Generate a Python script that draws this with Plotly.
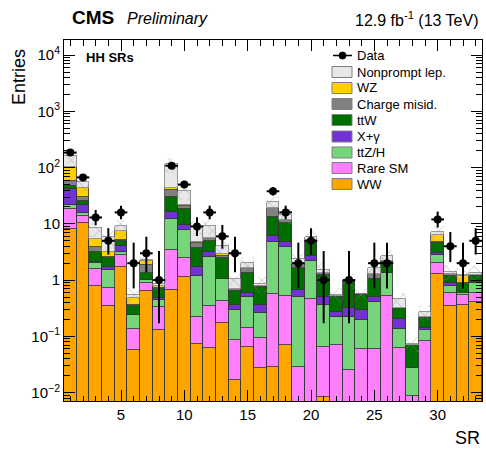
import math
import plotly.graph_objects as go

# ---------------- data ----------------
sr = list(range(1, 34))

ww = [8.0, 10.5, 0.79, 0.35, 1.69, 0.056, 0.65, 0.13, 0.66, 1.12, 0.074, 0.062, 0.176, 0.0166, 0.065, 0.027, 0.028,
      0.07, 0, 0, 0.0085, 0, 0, 0, 0, 0, 0, 0, 0, 1.29, 0.34, 0.36, 0.40]
rare = [10.4, 3.3, 0.77, 0.37, 1.11, 0.078, 0.25, 0.20, 2.84, 1.33, 0.151, 0.278, 0.254, 0.068, 0.075, 0.066, 0.532,
        0.45, 0.028, 0.46, 0.0555, 0.07, 0.025, 0.059, 0.059, 0.52, 0.062, 0.0088, 0.081, 0.75, 0.24, 0.19, 0.20]
ttzh = [3.6, 2.1, 0.44, 0.80, 0.40, 0.101, 0.10, 0.12, 8.5, 5.35, 0.935, 2.21, 0.60, 0.215, 0.36, 0.167, 4.24,
        3.32, 0.482, 1.74, 0.296, 0.155, 0.195, 0.137, 0.351, 0.84, 0.072, 0.0182, 0.049, 0.76, 0.22, 0.05, 0.28]
xgamma = [19.0, 5.8, 0.13, 0.17, 0.85, 0.0, 0.0, 0.03, 4.0, 1.8, 0.58, 0.55, 0.0, 0.06, 0.10, 0.10, 1.4,
          0.96, 0.16, 0.49, 0.15, 0.05, 0.096, 0.099, 0.10, 0.0, 0.066, 0.0, 0.01, 0.2, 0.08, 0.0, 0.0]
ttw = [6.0, 4.2, 0.97, 0.76, 0.95, 0.115, 0.36, 0.21, 13.6, 8.8, 2.06, 1.9, 1.42, 0.29, 0.76, 0.38, 7.2,
       5.4, 1.0, 2.11, 0.73, 0.235, 0.624, 0.255, 0.52, 0.78, 0.116, 0.043, 0.07, 1.6, 0.28, 0.28, 0.28]
chargemisid = [10.0, 4.6, 0.8, 0.10, 0.1, 0.01, 0.50, 0.03, 10.4, 2.6, 0.8, 0.5, 0.28, 0.04, 0.26, 0.05, 5.5,
               1.5, 0.27, 0.4, 0.08, 0.01, 0.03, 0.01, 0.26, 0.06, 0.004, 0.001, 0.01, 0.1, 0.13, 0.0, 0.08]
wz = [45.0, 12.5, 1.5, 0.55, 2.5, 0.12, 0.34, 0.05, 2.8, 1.0, 0.1, 0.1, 0.17, 0.01, 0.03, 0.01, 0.1,
      0.1, 0.01, 0.0, 0.0, 0.0, 0.0, 0.0, 0.01, 0.0, 0.0, 0.0, 0.0, 1.65, 0.01, 0.28, 0.01]
nonprompt = [62.0, 13.0, 2.9, 2.7, 1.6, 0.07, 0.10, 0.09, 71.0, 16.0, 4.0, 3.4, 1.1, 0.33, 0.35, 0.06, 5.2,
             2.6, 0.43, 0.7, 0.2, 0.03, 0.03, 0.01, 0.32, 0.49, 0.14, 0.003, 0.055, 0.75, 0.12, 0.08, 0.11]
data = [185, 67, 13, 5, 16, 2, 3, 1, 108, 50, 9, 16, 6, 3, 0, 0, 38, 16, 2, 5, 1, 0, 1, 0, 2, 2, 0, 0, 0, 12, 4, 2, 5]

syst_rel = 0.3  # relative size of the hatched uncertainty band

ytick_vals = [1e-2, 1e-1, 1, 10, 1e2, 1e3, 1e4]
ytick_text = ["10<sup>\u22122</sup>", "10<sup>\u22121</sup>", "1", "10", "10<sup>2</sup>", "10<sup>3</sup>",
              "10<sup>4</sup>"]

# ---------------- layout geometry ----------------
W, H = 486, 452
L, R, T, B = 64, 4, 40, 51
PW, PH = W - L - R, H - T - B
FONT = "Liberation Sans, Arial, Helvetica, sans-serif"


def px(x):
    return (x - L) / PW


def py(y):
    return (H - B - y) / PH


components = [
    ("WW", ww, "#ffa500", "#333333"),
    ("Rare SM", rare, "#ff80ff", "#333333"),
    ("ttZ/H", ttzh, "#76d47a", "#333333"),
    ("X+\u03b3", xgamma, "#7231d2", "#333333"),
    ("ttW", ttw, "#006f00", "#333333"),
    ("Charge misid.", chargemisid, "#808080", "#333333"),
    ("WZ", wz, "#ffd000", "#333333"),
    ("Nonprompt lep.", nonprompt, "#e8e8e8", "#808080"),
]

fig = go.Figure()
for name, vals, col, lcol in components:
    fig.add_trace(go.Bar(x=sr, y=vals, name=name, width=1.0, showlegend=False,
                         marker=dict(color=col, line=dict(color=lcol, width=0.8))))

# uncertainty band (hatched)
total = [sum(c[1][i] for c in components) for i in range(len(sr))]
fig.add_trace(go.Bar(x=sr, y=[2 * syst_rel * t for t in total], base=[(1 - syst_rel) * t for t in total],
                     width=1.0, showlegend=False, hoverinfo="skip",
                     marker=dict(color="rgba(0,0,0,0)", line=dict(width=0),
                                 pattern=dict(shape="x", fgcolor="#8c8c8c", bgcolor="rgba(0,0,0,0)",
                                              size=10, solidity=0.16))))


# data with Poisson (Garwood, Wilson-Hilferty approx.) errors
def garwood(n):
    lo = 0.0 if n == 0 else n * (1 - 1 / (9 * n) - 1 / (3 * math.sqrt(n))) ** 3
    m = n + 1
    hi = m * (1 - 1 / (9 * m) + 1 / (3 * math.sqrt(m))) ** 3
    return n - lo, hi - n


dx = [x for x, n in zip(sr, data) if n > 0]
dy = [n for n in data if n > 0]
elo = [garwood(n)[0] for n in dy]
ehi = [garwood(n)[1] for n in dy]
fig.add_trace(go.Scatter(x=dx, y=dy, mode="markers", name="Data", showlegend=False,
                         marker=dict(color="black", size=8),
                         error_y=dict(type="data", symmetric=False, array=ehi, arrayminus=elo,
                                      color="black", thickness=2, width=0),
                         error_x=dict(type="constant", value=0.5, color="black", thickness=2, width=0)))

minor_y = [k * 10.0 ** e for e in range(-3, 5) for k in range(2, 10)]

fig.update_layout(
    width=W, height=H, margin=dict(l=L, r=R, t=T, b=B),
    paper_bgcolor="white", plot_bgcolor="white",
    barmode="stack", bargap=0,
    font=dict(family=FONT, size=15, color="black"),
    xaxis=dict(range=[0.5, 33.5], tickmode="linear", tick0=0, dtick=5, ticks="inside", ticklen=11,
               tickwidth=1, tickcolor="black", showline=True, linecolor="black", linewidth=1,
               mirror="ticks", showgrid=False, zeroline=False,
               tickfont=dict(family=FONT, size=15),
               minor=dict(tickmode="linear", tick0=0, dtick=1, ticks="inside", ticklen=5.5,
                          tickcolor="black", showgrid=False)),
    yaxis=dict(type="log", range=[-2.15, 4.27], tickmode="array", tickvals=ytick_vals, ticktext=ytick_text,
               ticks="inside", ticklen=11, tickwidth=1, tickcolor="black", showline=True, linecolor="black",
               linewidth=1, mirror="ticks", showgrid=False, zeroline=False,
               tickfont=dict(family=FONT, size=15),
               minor=dict(tickmode="array", tickvals=minor_y, ticks="inside", ticklen=6,
                          tickcolor="black", showgrid=False)),
)

ann = [
    dict(x=px(70), y=py(18), text="<b>CMS</b>", xanchor="left", yanchor="middle", font=dict(size=19)),
    dict(x=px(125), y=py(19), text="<i>Preliminary</i>", xanchor="left", yanchor="middle", font=dict(size=16)),
    dict(x=px(481), y=py(19), text="12.9 fb<sup>-1</sup> (13 TeV)", xanchor="right", yanchor="middle",
         font=dict(size=16)),
    dict(x=px(84), y=py(58), text="<b>HH SRs</b>", xanchor="left", yanchor="middle", font=dict(size=13)),
    dict(x=px(19), y=py(77), text="Entries", textangle=-90, xanchor="center", yanchor="middle",
         font=dict(size=18)),
    dict(x=px(482), y=py(438), text="SR", xanchor="right", yanchor="middle", font=dict(size=18)),
]

shapes = []
leg_y = [55.5, 72, 88, 104, 120, 136.5, 152.5, 168, 184]
leg_items = [("Data", None, None)] + [(c[0], c[2], "#808080") for c in reversed(components)]
for (name, col, lcol), yc in zip(leg_items, leg_y):
    if col is None:
        shapes.append(dict(type="line", xref="paper", yref="paper", x0=px(333), x1=px(352), y0=py(yc), y1=py(yc),
                           line=dict(color="black", width=1.5)))
        shapes.append(dict(type="circle", xref="paper", yref="paper", x0=px(339), x1=px(346), y0=py(yc + 3.5),
                           y1=py(yc - 3.5), fillcolor="black", line=dict(color="black", width=1)))
    else:
        shapes.append(dict(type="rect", xref="paper", yref="paper", x0=px(332), x1=px(352), y0=py(yc + 5.5),
                           y1=py(yc - 5.5), fillcolor=col, line=dict(color=lcol, width=1)))
    ann.append(dict(x=px(355), y=py(yc), text=name, xanchor="left", yanchor="middle", font=dict(size=13)))

for a in ann:
    a.update(xref="paper", yref="paper", showarrow=False)
fig.update_layout(annotations=ann, shapes=shapes)

fig.write_html("out.html", config={"displayModeBar": False},
               post_script="document.body.style.margin='0px';document.body.style.overflow='hidden';")
